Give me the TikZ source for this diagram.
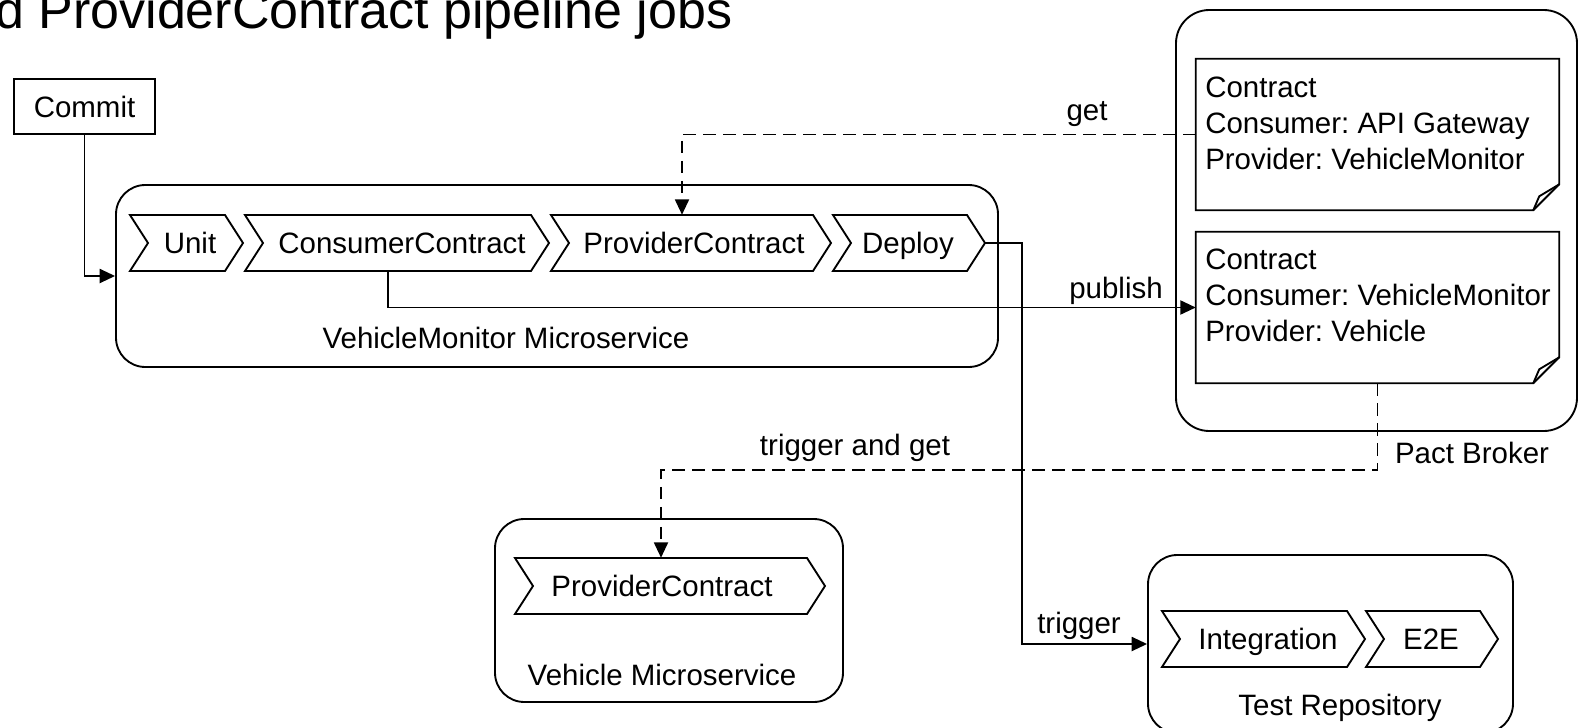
\documentclass[tikz,border=0pt]{standalone}
\usepackage{fontspec}
\setmainfont{Liberation Sans}
\usetikzlibrary{calc,arrows.meta}
\frenchspacing
\tikzset{
  ln/.style={line width=1.4pt},
  arr/.style={ln, -{Triangle[length=11.5pt,width=10.5pt]}},
  dsh/.style={arr, dash pattern=on 9.5pt off 5.5pt},
  box/.style={draw, ln, rounded corners=22pt, inner sep=0pt},
  txt/.style={font=\fontsize{22.1}{27}\selectfont, inner sep=0pt, text height=15.8pt, text depth=0pt},
  chevtext/.style={txt, minimum height=42pt},
  notetext/.style={font=\fontsize{22.1}{27}\selectfont, inner sep=0pt, align=left, anchor=north west},
}
\newcommand\chevron[6]{%
  \draw[ln] (#2,#4-28) -- (#3,#4-28) -- (#3+18,#4) -- (#3,#4+28) -- (#2,#4+28) -- (#2+18,#4) -- cycle;
  \node[chevtext] (#1) at (#5,#4) {#6};
}
\newcommand\notefold[1]{%
  \draw[ln] (#1.north west) -- (#1.north east) -- ($(#1.south east)+(0,-26)$) -- ($(#1.south east)+(-26,0)$) -- (#1.south west) -- cycle;
  \draw[ln] ($(#1.south east)+(0,-26)$) -- ($(#1.south east)+(-20,-14)$) -- ($(#1.south east)+(-26,0)$);
}
\begin{document}
\begin{tikzpicture}[x=0.75pt,y=-0.75pt]
\useasboundingbox (0,0) rectangle (1578,728);
\clip (0,0) rectangle (1578,728);

% title (cut by the frame)
\node[anchor=base west, font=\fontsize{39}{47}\selectfont, inner sep=0pt] (title) at (-5,28) {d ProviderContract pipeline jobs};

% commit
\node[draw, ln, txt, minimum width=105.75pt, minimum height=41.25pt] (commit) at (84.5,106.5) {Commit};

% containers
\node[box, minimum width=661.5pt, minimum height=136.5pt] (vm) at (557,276) {};
\node[box, rounded corners=25pt, minimum width=300.75pt, minimum height=315.75pt] (pact) at (1376.5,220.5) {};
\node[box, minimum width=261pt, minimum height=137.25pt] (veh) at (669,610.5) {};
\node[box, minimum width=273.75pt, minimum height=133.5pt] (test) at (1330.5,644) {};

% container labels
\node[txt] (vmlbl) at (506,338) {VehicleMonitor Microservice};
\node[txt] (pblbl) at (1472,453) {Pact Broker};
\node[txt] (vehlbl) at (662,675) {Vehicle Microservice};
\node[txt] (testlbl) at (1340,705) {Test Repository};

% chevrons
\chevron{unit}{130}{225}{243}{190}{Unit}
\chevron{consumer}{245}{531}{243}{402}{ConsumerContract}
\chevron{provider}{551}{813}{243}{694}{ProviderContract}
\chevron{deploy}{833}{967}{243}{908}{Deploy}
\chevron{pvc}{515}{807}{586}{662}{ProviderContract}
\chevron{integ}{1162}{1347}{639}{1268}{Integration}
\chevron{etoe}{1366}{1480}{639}{1431}{E2E}
\coordinate (deploytip) at (985,243);

% contract notes
\node[inner sep=0pt, minimum width=272.25pt, minimum height=113.25pt] (note1) at (1377.5,134.5) {};
\node[inner sep=0pt, minimum width=272.25pt, minimum height=113.25pt] (note2) at (1377.5,307.5) {};
\notefold{note1}
\notefold{note2}
\node[notetext] (note1text) at (1205,77) {Contract\\Consumer: API Gateway\\Provider: VehicleMonitor};
\node[notetext] (note2text) at (1205,249) {Contract\\Consumer: VehicleMonitor\\Provider: Vehicle};

% connectors
\draw[arr] (commit.south) |- (vm.west);
\draw[dsh] (note1.west) -| ($(provider.north)+(-12,0)$);
\draw[arr] ($(consumer.south)+(-14,0)$) |- (note2.west);
\draw[arr] (deploytip) -- ++(37,0) |- (test.west);
\draw[dsh] (note2.south) -- ++(0,87) -| ($(pvc.north)+(-1,0)$);

% connector labels
\node[txt] (getlbl) at (1087,110) {get};
\node[txt] (publbl) at (1116,288) {publish};
\node[txt] (tglbl) at (855,445) {trigger and get};
\node[txt] (trlbl) at (1079,623) {trigger};
\end{tikzpicture}
\end{document}
